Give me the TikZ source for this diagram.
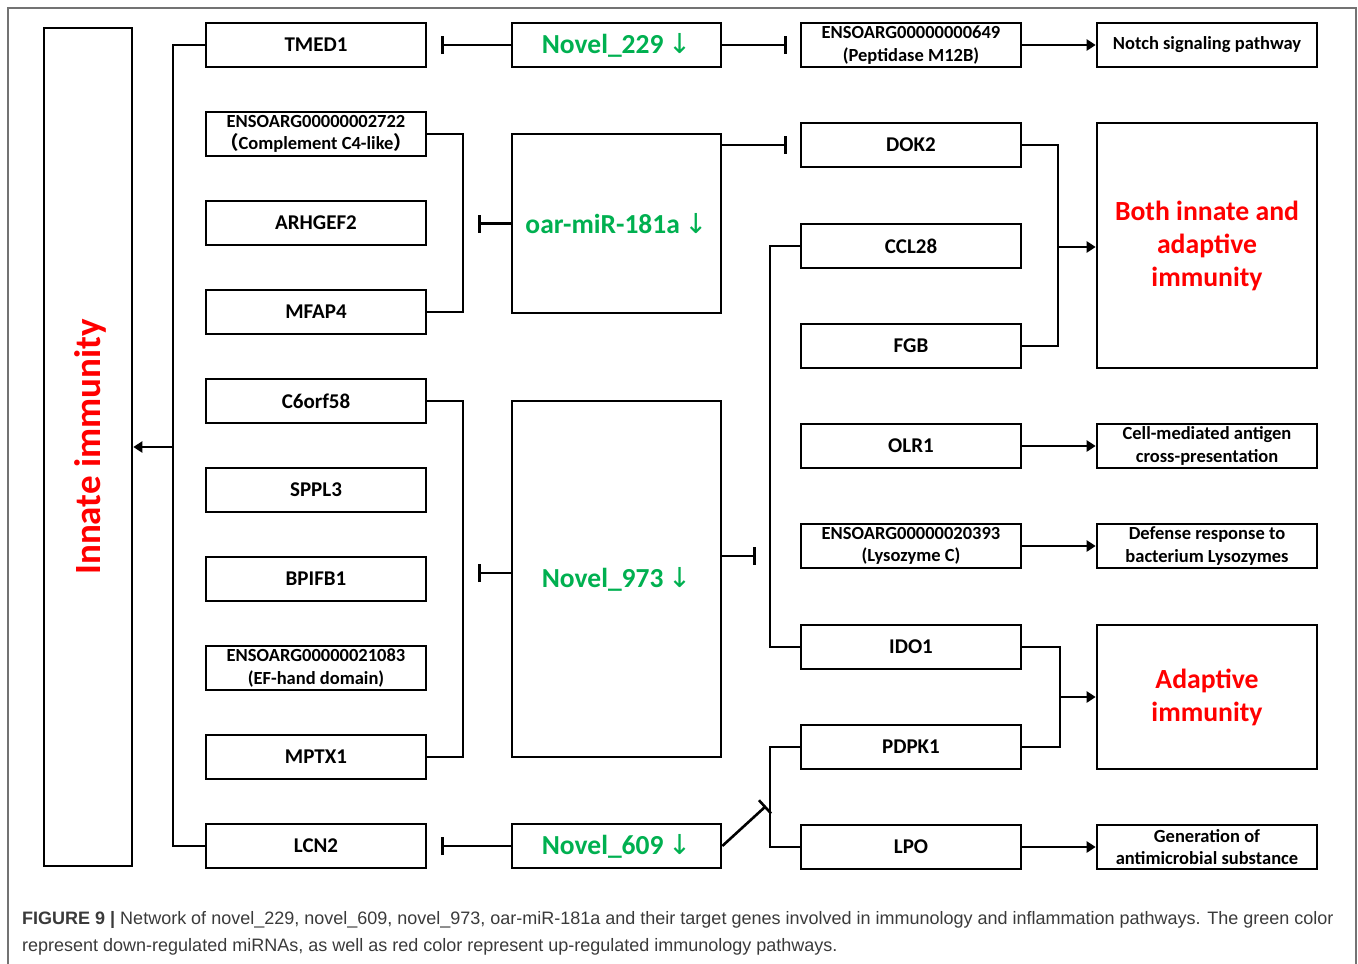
\documentclass[tikz,border=0pt]{standalone}
\usepackage{fontspec}
\setmainfont{Carlito}
\newfontfamily\capfont{Liberation Sans}
\newfontfamily\arrfont{DejaVu Sans}
\newfontfamily\cjk{Noto Sans CJK SC}
\usetikzlibrary{arrows.meta,calc}
\definecolor{mgreen}{RGB}{0,176,80}
\definecolor{mred}{RGB}{255,0,0}
\definecolor{capgray}{RGB}{58,58,58}
\newcommand{\dn}{\,{\arrfont\mdseries\char"2193}}
\begin{document}
\begin{tikzpicture}[x=1pt,y=-1pt,
 box/.style={draw=black,line width=2.6pt,inner sep=0pt,align=center,font=\bfseries\fontsize{21}{24}\selectfont},
 gbox/.style={box,minimum width=220pt,minimum height=44pt},
 sbox/.style={gbox,font=\bfseries\fontsize{18.5}{22.5}\selectfont},
 mbox/.style={box,minimum width=209pt,text=mgreen,font=\bfseries\fontsize{27.5}{30}\selectfont},
 rbox/.style={box,minimum width=220pt,text=mred,font=\bfseries\fontsize{27.7}{33}\selectfont},
 conn/.style={line width=2.6pt},
 inh/.style={conn,-{Bar[width=18pt,line width=2.6pt]}},
 act/.style={conn,-{Triangle[length=9pt,width=11pt]}},
 captxt/.style={anchor=base west,inner sep=0pt,text=capgray,font=\capfont\fontsize{18}{20}\selectfont},
]
\useasboundingbox (0,0) rectangle (1358,964);
\draw[black!55,line width=1.2pt] (8,8) rectangle (1356,1000);

% innate
\node[box,minimum width=88pt,minimum height=838pt] (innate) at (88,447) {};
\node[rotate=90,text=mred,font=\bfseries\fontsize{37}{40}\selectfont] (innatetxt) at (90,447) {Innate immunity};

% left genes
\node[gbox] (tmed1) at (316,45) {TMED1};
\node[sbox] (c4) at (316,134) {ENSOARG00000002722\\{\cjk （}Complement C4-like{\cjk ）}};
\node[gbox] (arhgef2) at (316,223) {ARHGEF2};
\node[gbox] (mfap4) at (316,312) {MFAP4};
\node[gbox] (c6orf58) at (316,401) {C6orf58};
\node[gbox] (sppl3) at (316,490) {SPPL3};
\node[gbox] (bpifb1) at (316,579) {BPIFB1};
\node[sbox] (efhand) at (316,668) {ENSOARG00000021083\\(EF-hand domain)};
\node[gbox] (mptx1) at (316,757) {MPTX1};
\node[gbox] (lcn2) at (316,846) {LCN2};

% miRNAs
\node[mbox,minimum height=44pt] (n229) at (616.5,45) {Novel\_229\dn};
\node[mbox,minimum height=179pt] (mir) at (616.5,223.5) {oar-miR-181a\dn};
\node[mbox,minimum height=356pt] (n973) at (616.5,579) {Novel\_973\dn};
\node[mbox,minimum height=44pt] (n609) at (616.5,846) {Novel\_609\dn};

% right genes
\node[sbox] (e649) at (911,45) {ENSOARG00000000649\\(Peptidase M12B)};
\node[gbox] (dok2) at (911,145) {DOK2};
\node[gbox] (ccl28) at (911,246) {CCL28};
\node[gbox] (fgb) at (911,346) {FGB};
\node[gbox] (olr1) at (911,446) {OLR1};
\node[sbox] (lyz) at (911,546) {ENSOARG00000020393\\(Lysozyme C)};
\node[gbox] (ido1) at (911,647) {IDO1};
\node[gbox] (pdpk1) at (911,747) {PDPK1};
\node[gbox] (lpo) at (911,847) {LPO};

% outcomes
\node[sbox] (notch) at (1207,45) {Notch signaling pathway};
\node[rbox,minimum height=245pt] (both) at (1207,245.5) {Both innate and\\adaptive\\immunity};
\node[sbox] (cell) at (1207,446) {Cell-mediated antigen\\cross-presentation};
\node[sbox] (def) at (1207,546) {Defense response to\\bacterium Lysozymes};
\node[rbox,minimum height=144pt] (adapt) at (1207,697) {Adaptive\\immunity};
\node[sbox] (gen) at (1207,847) {Generation of\\antimicrobial substance};

% coordinates
\coordinate (lbus) at (173,447);
\coordinate (b1) at (463,223.5);
\coordinate (b2) at (463,573);
\coordinate (rbus1) at (770,556);
\coordinate (rbus2) at (770,807);
\coordinate (t609) at (766,806);
\coordinate (rb1) at (1058,247);
\coordinate (rb2) at (1060,697);

% left side
\draw[conn] (tmed1.west) -| (lbus) |- (lcn2.west);
\draw[act] (lbus) -- (innate.east |- lbus);
\draw[conn] (c4.east) -| (b1) |- (mfap4.east);
\draw[conn] (c6orf58.east) -| (b2) |- (mptx1.east);
\draw[inh,shorten >=15pt] (mir.west) -- (b1);
\draw[inh,shorten >=15pt] (n973.west |- b2) -- (b2);
\draw[inh,shorten >=14pt] (n229.west) -- (tmed1.east);
\draw[inh,shorten >=14pt] (n609.west) -- (lcn2.east);

% right side of miRNAs
\draw[inh,shorten >=13pt] (n229.east) -- (e649.west);
\draw[inh,shorten >=13pt] (mir.east |- dok2) -- (dok2.west);
\draw[conn] (ccl28.west) -| (rbus1) |- (ido1.west);
\draw[inh,shorten >=14pt] (n973.east |- rbus1) -- (rbus1);
\draw[conn] (pdpk1.west) -| (rbus2) |- (lpo.west);
\draw[inh] (n609.east) -- (t609);

% outcomes
\draw[act] (e649.east) -- (notch.west);
\draw[conn] (dok2.east) -| (rb1) |- (fgb.east);
\draw[act] (rb1) -- (both.west |- rb1);
\draw[act] (olr1.east) -- (cell.west);
\draw[act] (lyz.east) -- (def.west);
\draw[conn] (ido1.east) -| (rb2) |- (pdpk1.east);
\draw[act] (rb2) -- (adapt.west |- rb2);
\draw[act] (lpo.east) -- (gen.west);

% caption
\node[captxt] (cap1) at (22,924) {\textbf{FIGURE 9 |} Network of novel\_229, novel\_609, novel\_973, oar-miR-181a and their target genes involved in immunology and inflammation pathways. The green color};
\node[captxt] (cap2) at (22,951) {represent down-regulated miRNAs, as well as red color represent up-regulated immunology pathways.};
\end{tikzpicture}
\end{document}
